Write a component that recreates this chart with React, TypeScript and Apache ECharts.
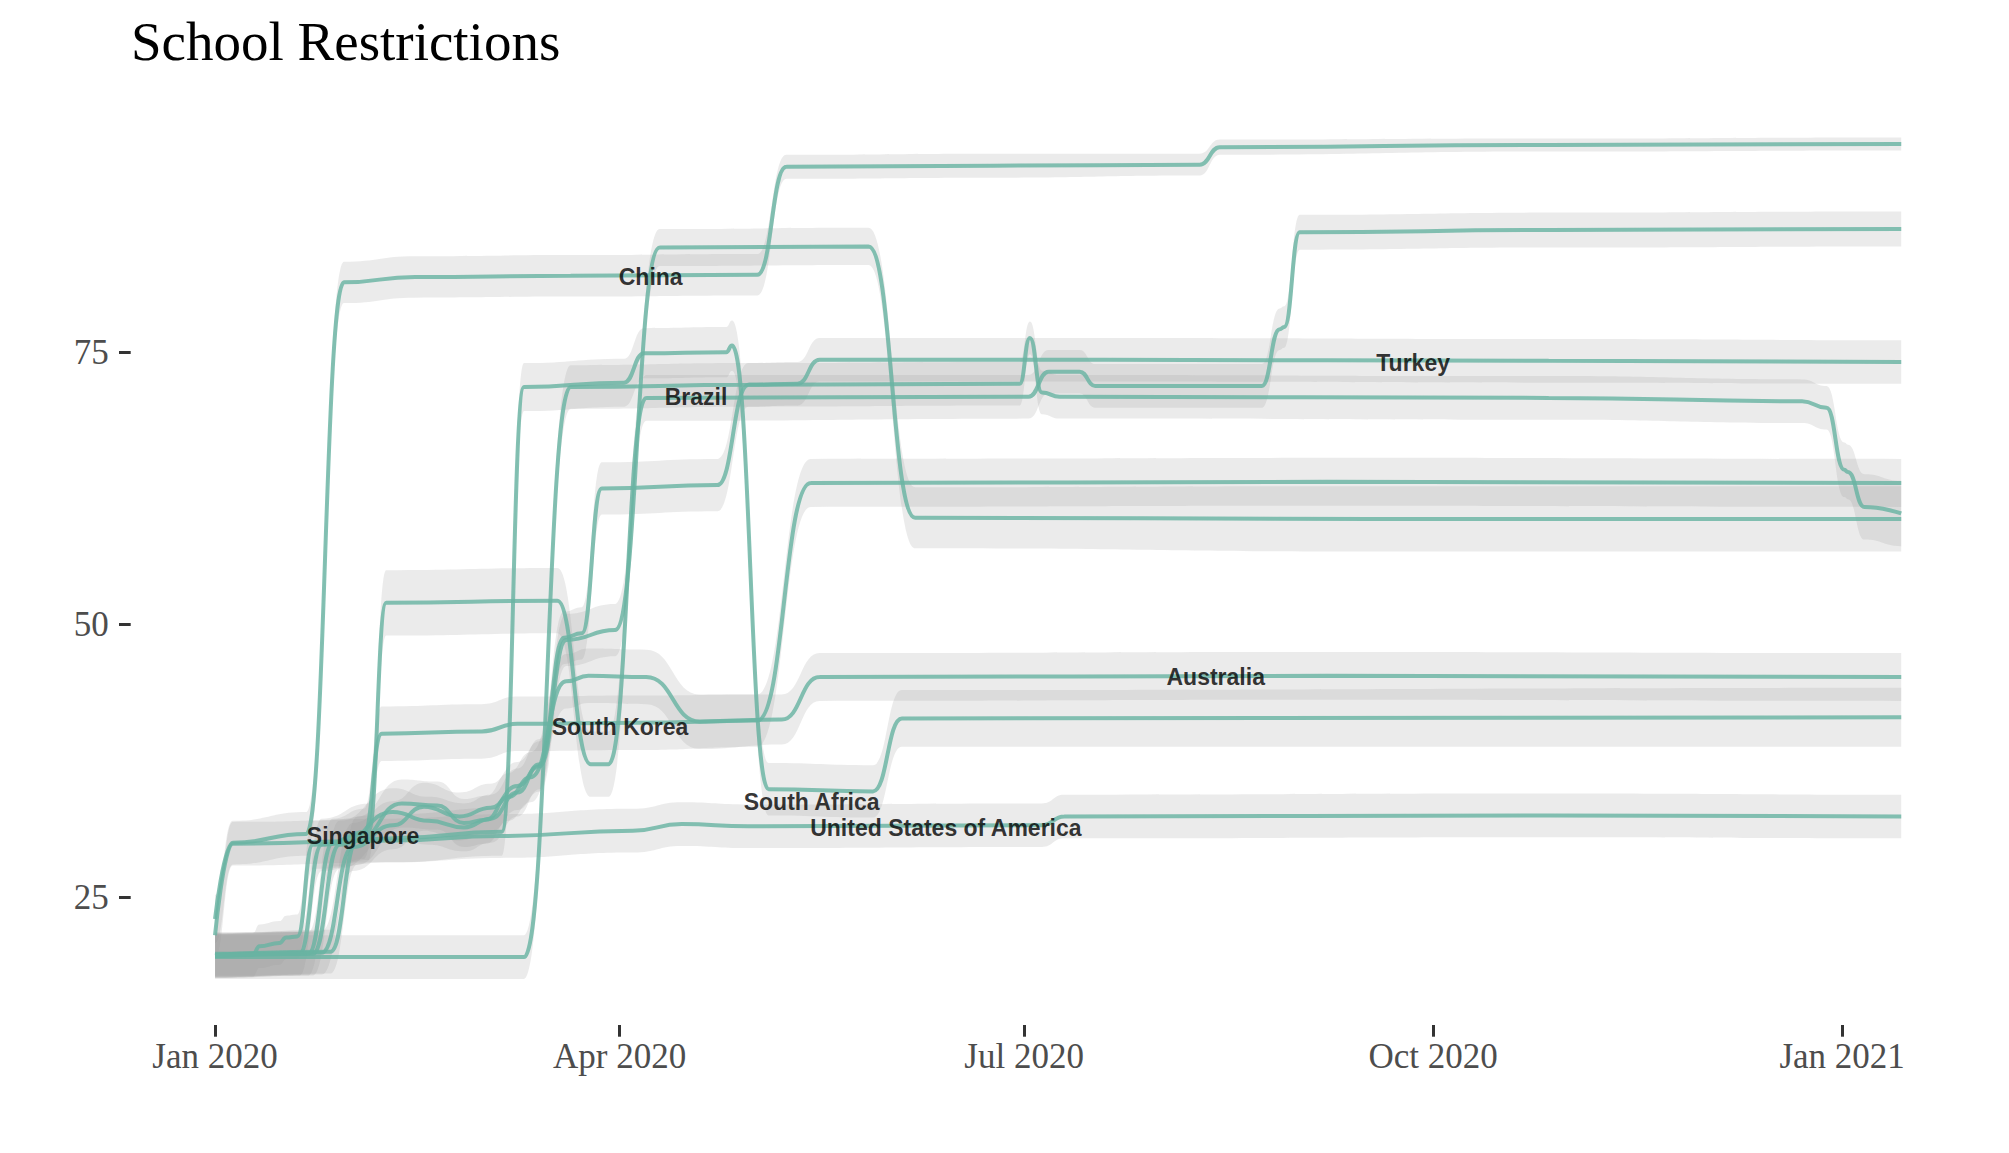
import React, { useEffect, useRef } from 'react';
import * as echarts from 'echarts';

// Each point: [day since 1 Jan 2020, estimated value, half-width of the interval band]
type Pt = [number, number, number];

const china: Pt[] = [
  [0, 23.0, 2.2], [4, 30.0, 2.0], [20.5, 30.8, 2.0], [29, 81.4, 1.9], [45, 81.9, 1.9],
  [80, 82.0, 1.9], [122, 82.1, 1.9], [128.5, 92.0, 1.1], [175, 92.1, 1.1], [221.5, 92.2, 1.0],
  [226, 93.8, 0.7], [300, 94.0, 0.6], [379.3, 94.1, 0.6],
];

const usa: Pt[] = [
  [0, 21.5, 2.0], [4, 29.9, 2.0], [40, 30.2, 2.0], [64, 30.6, 2.0], [94, 31.1, 2.0],
  [105, 31.7, 2.0], [120, 31.5, 2.0], [186, 31.6, 2.0], [191, 32.4, 2.0], [300, 32.5, 2.0],
  [379.3, 32.4, 2.0],
];

const southAfrica: Pt[] = [
  [0, 19.6, 2.0], [8.5, 19.7, 2.0], [10, 20.5, 2.0], [14.5, 20.8, 2.0], [16, 21.3, 2.0],
  [18.5, 21.4, 2.0], [22, 29.8, 2.2], [40, 30.4, 2.2], [64.5, 31.0, 2.2], [69.5, 71.8, 2.2],
  [92, 72.2, 2.2], [96.5, 74.9, 2.3], [115, 75.0, 2.3], [116.3, 75.6, 2.3], [124.5, 34.9, 2.4],
  [148, 34.7, 2.4], [154.5, 41.4, 2.6], [379.3, 41.5, 2.7],
];

const brazil: Pt[] = [
  [0, 19.8, 2.0], [19, 19.8, 2.0], [24, 29.8, 2.4], [34.5, 31.0, 2.6], [38.5, 52.0, 3.0],
  [77, 52.2, 3.0], [84.5, 37.2, 3.0], [88.5, 37.2, 3.0], [97, 70.8, 2.1], [183, 70.9, 2.0],
  [187.5, 73.2, 2.0], [194.5, 73.2, 2.0], [198, 71.9, 2.0], [235.5, 71.9, 2.0], [239.5, 77.1, 1.9],
  [240.5, 77.3, 1.9], [244, 86.0, 1.6], [300, 86.2, 1.6], [379.3, 86.3, 1.6],
];

const turkey: Pt[] = [
  [0, 19.6, 2.0], [22, 19.8, 2.0], [28, 29.8, 2.2], [40, 32.8, 2.2], [48, 32.0, 2.2],
  [56, 31.4, 2.2], [62, 32.2, 2.2], [68, 34.6, 2.2], [73, 37.2, 2.3], [78.5, 48.8, 2.4],
  [82.5, 49.2, 2.4], [87, 62.5, 2.4], [113, 62.8, 2.4], [120, 72.0, 2.0], [131, 72.1, 2.0],
  [136, 74.3, 2.0], [200, 74.3, 2.0], [300, 74.2, 2.0], [379.3, 74.1, 2.0],
];

const singapore: Pt[] = [
  [0, 19.7, 2.0], [24, 19.9, 2.0], [31, 29.6, 2.2], [40, 31.6, 2.2], [47, 33.3, 2.2],
  [55, 32.4, 2.2], [62, 33.2, 2.2], [68, 35.2, 2.2], [73, 37.0, 2.3], [79, 48.6, 2.4],
  [90, 49.5, 2.4], [100, 84.6, 1.7], [147, 84.7, 1.7], [157.5, 59.8, 2.8], [260, 59.7, 3.0],
  [379.3, 59.7, 3.0],
];

const australia: Pt[] = [
  [0, 19.7, 2.0], [26, 20.0, 2.0], [32, 30.2, 2.2], [42, 33.6, 2.2], [50, 33.4, 2.2],
  [56, 31.8, 2.2], [61, 32.1, 2.2], [66, 34.2, 2.2], [71, 36.0, 2.3], [79, 44.8, 2.5],
  [84, 45.3, 2.5], [97, 45.2, 2.5], [109, 41.1, 2.5], [127.5, 41.3, 2.3], [136, 45.2, 2.2],
  [250, 45.3, 2.2], [379.3, 45.2, 2.2],
];

const southKorea: Pt[] = [
  [0, 19.6, 2.0], [21, 19.8, 2.0], [26.5, 30.0, 2.2], [33.5, 30.8, 2.3], [37.5, 40.0, 2.5],
  [60, 40.2, 2.5], [68, 40.9, 2.5], [95, 41.0, 2.5], [122, 41.2, 2.4], [134, 63.0, 2.2],
  [250, 63.1, 2.2], [379.3, 63.0, 2.2],
];

const unlabelled: Pt[] = [
  [0, 19.5, 2.0], [69.5, 19.5, 2.0], [80, 71.8, 2.0], [120, 72.0, 2.0], [181, 72.1, 2.0],
  [183.3, 76.3, 1.5], [186, 71.3, 2.0], [190, 70.9, 2.0], [300, 70.8, 2.0], [357, 70.5, 2.0],
  [362.5, 69.9, 2.0], [366.5, 64.2, 2.5], [367.3, 64.0, 2.5], [371, 60.8, 3.0], [379.3, 60.2, 3.0],
];

const seriesNames = [
  'China', 'United States of America', 'South Africa', 'Brazil', 'Turkey',
  'Singapore', 'Australia', 'South Korea', 'Other',
];
const seriesPoints = [
  china, usa, southAfrica, brazil, turkey, singapore, australia, southKorea, unlabelled,
];

const labelNames = [
  'China', 'Brazil', 'Turkey', 'Australia', 'South Korea',
  'South Africa', 'United States of America', 'Singapore',
];
const labelDays = [98, 108.2, 269.5, 225.1, 91.1, 134.2, 164.4, 33.3];
const labelValues = [81.9, 70.85, 74.0, 45.24, 40.63, 33.75, 31.3, 30.6];

const yTickValues = [25, 50, 75];
const xTickDays = [0, 91, 182, 274, 366];
const xTickLabels = ['Jan 2020', 'Apr 2020', 'Jul 2020', 'Oct 2020', 'Jan 2021'];

const X_MIN = -18.97;
const X_MAX = 398.3;
const Y_MIN = 13.27;
const Y_MAX = 98.7;

const LINE_COLOR = '#69b3a2';
const BAND_COLOR = 'rgba(153,153,153,0.2)';

// Cubic segments with flat tangents at every key point (same shape as smoothMonotone 'x').
function smoothSegments(pts: number[][]): string {
  let d = '';
  for (let k = 1; k < pts.length; k++) {
    const [x0, y0] = pts[k - 1];
    const [x1, y1] = pts[k];
    const mx = (x0 + x1) / 2;
    d += ` C${mx},${y0} ${mx},${y1} ${x1},${y1}`;
  }
  return d;
}

export default function App() {
  const ref = useRef<HTMLDivElement>(null);

  useEffect(() => {
    if (!ref.current) return;
    const chart = echarts.init(ref.current, undefined, { renderer: 'svg' });

    const bandSeries = {
      type: 'custom',
      name: 'bands',
      silent: true,
      clip: true,
      z: 1,
      data: seriesPoints.map((pts) => [pts[0][0], pts[0][1]]),
      renderItem: (params: any, api: any) => {
        const pts = seriesPoints[params.dataIndex];
        const up = pts.map((p) => api.coord([p[0], p[1] + p[2]]));
        const lo = pts.map((p) => api.coord([p[0], p[1] - p[2]])).reverse();
        let d = `M${up[0][0]},${up[0][1]}`;
        d += smoothSegments(up);
        d += ` L${lo[0][0]},${lo[0][1]}`;
        d += smoothSegments(lo);
        d += ' Z';
        return {
          type: 'path',
          shape: { pathData: d },
          style: { fill: BAND_COLOR, stroke: 'none' },
        };
      },
    };

    const lineSeries = seriesPoints.map((pts, i) => ({
      type: 'line',
      name: seriesNames[i],
      data: pts.map((p) => [p[0], p[1]]),
      symbol: 'none',
      smooth: 0.5,
      smoothMonotone: 'x',
      lineStyle: { color: LINE_COLOR, width: 4, opacity: 0.82 },
      silent: true,
      z: 2,
    }));

    const labelSeries = {
      type: 'scatter',
      data: labelDays.map((d, i) => [d, labelValues[i], labelNames[i]]),
      symbolSize: 0,
      silent: true,
      z: 5,
      label: {
        show: true,
        position: 'inside',
        formatter: (p: any) => p.data[2],
        fontFamily: 'Liberation Sans',
        fontWeight: 'bold',
        fontSize: 23,
        color: '#000000',
      },
    };

    chart.setOption({
      animation: false,
      backgroundColor: '#ffffff',
      title: {
        text: 'School Restrictions',
        left: 131,
        top: 14,
        padding: 0,
        textStyle: {
          fontFamily: 'Liberation Serif',
          fontSize: 55,
          fontWeight: 'normal',
          color: '#000000',
        },
      },
      grid: { left: 130.7, right: 23.3, top: 93.8, bottom: 128, containLabel: false },
      xAxis: {
        type: 'value',
        min: X_MIN,
        max: X_MAX,
        axisLine: { show: false, onZero: false },
        splitLine: { show: false },
        axisTick: {
          show: true,
          customValues: xTickDays,
          length: 11.7,
          lineStyle: { color: '#333333', width: 3 },
        },
        axisLabel: {
          customValues: xTickDays,
          formatter: (v: number) => {
            const k = xTickDays.indexOf(v);
            return k >= 0 ? xTickLabels[k] : '';
          },
          fontFamily: 'Liberation Serif',
          fontSize: 35,
          color: '#4d4d4d',
          margin: 14,
        },
      },
      yAxis: {
        type: 'value',
        min: Y_MIN,
        max: Y_MAX,
        axisLine: { show: false, onZero: false },
        splitLine: { show: false },
        axisTick: {
          show: true,
          customValues: yTickValues,
          length: 11.7,
          lineStyle: { color: '#333333', width: 3 },
        },
        axisLabel: {
          customValues: yTickValues,
          fontFamily: 'Liberation Serif',
          fontSize: 35,
          color: '#4d4d4d',
          margin: 22,
        },
      },
      series: [bandSeries, ...lineSeries, labelSeries],
    });

    return () => chart.dispose();
  }, []);

  return (
    <div
      ref={ref}
      style={{ position: 'absolute', left: 0, top: 0, width: 2009, height: 1153 }}
    />
  );
}
